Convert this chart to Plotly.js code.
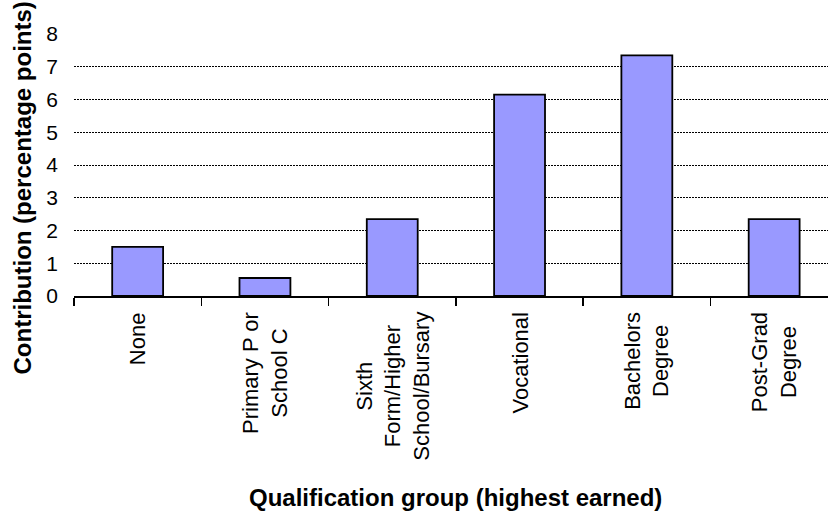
<!DOCTYPE html>
<html>
<head>
<meta charset="utf-8">
<script src="https://cdn.plot.ly/plotly-3.0.1.min.js"></script>
<style>
  html, body { margin: 0; padding: 0; background: #ffffff; }
  #chart { width: 828px; height: 513px; }
</style>
</head>
<body>
<div id="chart"></div>
<script>
// Qualification groups (highest earned) and their contribution in percentage points
const categories = [
  "None",
  "Primary P or School C",
  "Sixth Form/Higher School/Bursary",
  "Vocational",
  "Bachelors Degree",
  "Post-Grad Degree"
];
// Category names as printed under the axis, broken onto several lines
const categoryLabels = [
  "None",
  "Primary P or<br>School C",
  "Sixth<br>Form/Higher<br>School/Bursary",
  "Vocational",
  "Bachelors<br>Degree",
  "Post-Grad<br>Degree"
];
const contribution = [1.5, 0.55, 2.35, 6.15, 7.35, 2.35];
const yTickValues = [0, 1, 2, 3, 4, 5, 6, 7, 8];

const FONT = "Liberation Sans, Arial, Helvetica, sans-serif";

const trace = {
  type: "bar",
  x: categories,
  y: contribution,
  width: 0.4,
  marker: {
    color: "#9999ff",
    line: { color: "#000000", width: 1.8 }
  },
  hoverinfo: "x+y"
};

// Rotated, centre-aligned category labels hung below each category slot
const categoryAnnotations = categories.map((cat, i) => ({
  text: categoryLabels[i],
  xref: "x", yref: "paper",
  x: cat, y: 0,
  yshift: -14,
  xanchor: "center", yanchor: "top",
  textangle: -90,
  align: "center",
  showarrow: false,
  font: { family: FONT, size: 22, color: "#000000" }
}));

const layout = {
  width: 828,
  height: 513,
  margin: { l: 74, r: 0, t: 34, b: 217 },
  paper_bgcolor: "#ffffff",
  plot_bgcolor: "#ffffff",
  showlegend: false,
  font: { family: FONT, color: "#000000" },
  xaxis: {
    type: "category",
    range: [-0.5, 5.423],
    tickson: "boundaries",
    ticks: "outside",
    ticklen: 8,
    tickwidth: 1.5,
    tickcolor: "#000000",
    showline: true,
    linecolor: "#000000",
    linewidth: 2,
    showgrid: false,
    zeroline: false,
    showticklabels: false,
    fixedrange: true
  },
  yaxis: {
    range: [0, 8],
    tickvals: yTickValues,
    ticktext: yTickValues.map(String),
    showline: false,
    zeroline: false,
    ticks: "",
    showgrid: true,
    gridcolor: "#000000",
    gridwidth: 1,
    griddash: "2px,1px",
    ticklabelstandoff: 15,
    tickfont: { family: FONT, size: 21, color: "#000000" },
    fixedrange: true
  },
  annotations: categoryAnnotations.concat([
    {
      text: "<b>Contribution (percentage points)</b>",
      xref: "paper", yref: "paper",
      x: -74 / 754, y: 1 - (188 - 34) / 262,
      xanchor: "left", yanchor: "middle",
      xshift: 6,
      textangle: -90,
      showarrow: false,
      font: { family: FONT, size: 24, color: "#000000" }
    },
    {
      text: "<b>Qualification group (highest earned)</b>",
      xref: "paper", yref: "paper",
      x: (456 - 74) / 754, y: -(497 - 296) / 262,
      xanchor: "center", yanchor: "middle",
      showarrow: false,
      font: { family: FONT, size: 24, color: "#000000" }
    }
  ])
};

Plotly.newPlot("chart", [trace], layout, { displayModeBar: false, staticPlot: true });
</script>
</body>
</html>
